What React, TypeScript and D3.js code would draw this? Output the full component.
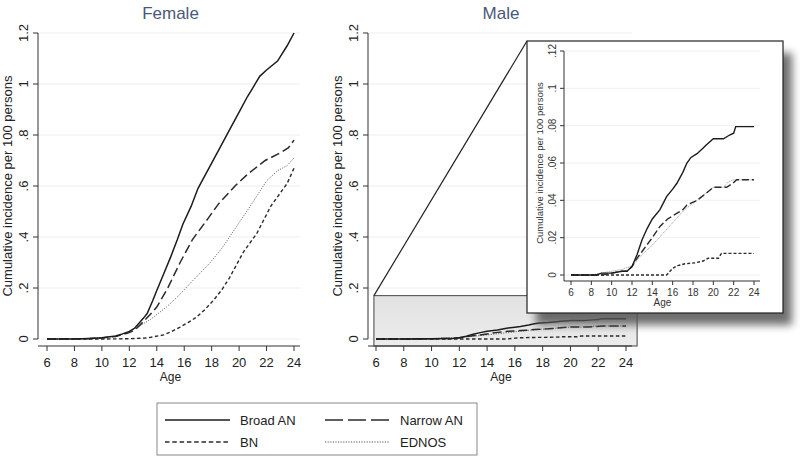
import React from "react";
import * as d3 from "d3";

// ---------- data ----------
const ageTicks = [6, 8, 10, 12, 14, 16, 18, 20, 22, 24];
const mainYTicks = [0, 0.2, 0.4, 0.6, 0.8, 1, 1.2];
const mainYLabels = ["0", ".2", ".4", ".6", ".8", "1", "1.2"];
const insetYTicks = [0, 0.02, 0.04, 0.06, 0.08, 0.1, 0.12];
const insetYLabels = ["0", ".02", ".04", ".06", ".08", ".1", ".12"];

const seriesNames = ["Broad AN", "Narrow AN", "BN", "EDNOS"];

// Female
const fBroadAge = [6, 8, 9, 10, 11, 11.5, 12, 12.4, 13, 13.3, 13.7, 14, 14.5, 15, 15.5, 15.9, 16.5, 17, 17.3, 18, 18.5, 19.3, 20, 20.6, 21, 21.5, 22, 22.8, 23.5, 24];
const fBroadVal = [0, 0, 0.002, 0.005, 0.012, 0.02, 0.03, 0.043, 0.08, 0.1, 0.15, 0.19, 0.255, 0.32, 0.39, 0.45, 0.52, 0.59, 0.62, 0.69, 0.74, 0.82, 0.89, 0.95, 0.985, 1.03, 1.055, 1.09, 1.15, 1.2];
const fNarrowAge = [6, 9, 10, 11, 11.5, 12, 12.4, 13, 13.5, 14, 14.8, 15.7, 16.6, 17.7, 18.5, 19.7, 20.7, 21.9, 23.0, 23.6, 24];
const fNarrowVal = [0, 0.001, 0.004, 0.01, 0.017, 0.025, 0.035, 0.067, 0.095, 0.125, 0.2, 0.3, 0.39, 0.47, 0.53, 0.6, 0.65, 0.7, 0.73, 0.75, 0.78];
const fBNAge = [6, 10, 12, 13.3, 14.5, 15.1, 15.7, 16.3, 16.9, 17.5, 18.1, 18.7, 19.3, 20.3, 21.3, 22.3, 23.5, 24];
const fBNVal = [0, 0, 0.001, 0.004, 0.016, 0.03, 0.047, 0.065, 0.086, 0.115, 0.15, 0.19, 0.24, 0.34, 0.415, 0.52, 0.61, 0.67];
const fEdnosAge = [6, 8, 9, 10, 11, 11.5, 12, 12.6, 13.5, 14.7, 15.5, 16.2, 17.9, 18.8, 19.8, 20.8, 22.0, 22.8, 23.5, 24];
const fEdnosVal = [0, 0, 0.002, 0.005, 0.011, 0.018, 0.028, 0.047, 0.075, 0.125, 0.165, 0.205, 0.3, 0.36, 0.44, 0.52, 0.62, 0.66, 0.68, 0.71];

// Male
const mBroadAge = [6, 8.5, 9, 10, 11, 11.5, 12, 12.5, 13, 13.5, 14, 14.75, 15.4, 16, 16.4, 17, 17.4, 17.8, 18.4, 19, 19.3, 20, 21, 21.6, 22, 22.2, 24];
const mBroadVal = [0, 0, 0.001, 0.001, 0.002, 0.002, 0.0045, 0.011, 0.019, 0.025, 0.03, 0.035, 0.042, 0.046, 0.049, 0.055, 0.06, 0.063, 0.065, 0.068, 0.0697, 0.073, 0.073, 0.075, 0.076, 0.0795, 0.0795];
const mNarrowAge = [6, 9, 10, 11, 11.5, 12, 12.5, 13.1, 14, 14.75, 15.5, 16.4, 17, 17.4, 18.4, 19.3, 20, 21.3, 21.9, 22.3, 24];
const mNarrowVal = [0, 0, 0.001, 0.002, 0.002, 0.0045, 0.009, 0.0134, 0.02, 0.026, 0.03, 0.033, 0.035, 0.0375, 0.04, 0.0438, 0.047, 0.047, 0.049, 0.051, 0.051];
const mBNAge = [6, 15.4, 16, 16.5, 17.2, 18.2, 19, 19.5, 20.5, 20.8, 24];
const mBNVal = [0, 0, 0.0036, 0.005, 0.006, 0.0065, 0.0075, 0.009, 0.009, 0.0116, 0.0116];
const mEdnosAge = [6, 8, 8.5, 9, 10, 11, 11.5, 12, 12.5, 13, 14, 15, 16, 17, 17.4, 18.4, 19.3, 20, 21, 21.5, 22, 24];
const mEdnosVal = [0, 0, 0.0005, 0.001, 0.002, 0.003, 0.004, 0.0045, 0.008, 0.011, 0.016, 0.022, 0.028, 0.034, 0.036, 0.04, 0.044, 0.047, 0.047, 0.05, 0.051, 0.051];

// zoomed region of male panel
const zoomAgeRange = [5.85, 24.8];
const zoomValMax = 0.17;

// ---------- styles ----------
const FONT = "'Liberation Sans', Arial, sans-serif";
const dashStyles: Record<string, string | undefined> = {
  "Broad AN": undefined,
  "Narrow AN": "9,4",
  BN: "3.5,2.5",
  EDNOS: "1,1.5",
};
const legendDash: Record<string, string | undefined> = {
  "Broad AN": undefined,
  "Narrow AN": "18,5",
  BN: "4.5,2.8",
  EDNOS: "1.2,1.4",
};
const widths: Record<string, number> = { "Broad AN": 1.5, "Narrow AN": 1.5, BN: 1.4, EDNOS: 1 };
const colors: Record<string, string> = { "Broad AN": "#1c1c1c", "Narrow AN": "#2a2a2a", BN: "#2a2a2a", EDNOS: "#555" };

type Series = { name: string; ages: number[]; vals: number[] };
const female: Series[] = [
  { name: "EDNOS", ages: fEdnosAge, vals: fEdnosVal },
  { name: "BN", ages: fBNAge, vals: fBNVal },
  { name: "Narrow AN", ages: fNarrowAge, vals: fNarrowVal },
  { name: "Broad AN", ages: fBroadAge, vals: fBroadVal },
];
const male: Series[] = [
  { name: "EDNOS", ages: mEdnosAge, vals: mEdnosVal },
  { name: "BN", ages: mBNAge, vals: mBNVal },
  { name: "Narrow AN", ages: mNarrowAge, vals: mNarrowVal },
  { name: "Broad AN", ages: mBroadAge, vals: mBroadVal },
];

function linePath(s: Series, x: d3.ScaleLinear<number, number>, y: d3.ScaleLinear<number, number>) {
  const pts = s.ages.map((a, i) => [a, s.vals[i]] as [number, number]);
  return d3.line<[number, number]>().x((d) => x(d[0])).y((d) => y(d[1])).curve(d3.curveLinear)(pts) || "";
}

type PanelProps = {
  title: string;
  x: d3.ScaleLinear<number, number>;
  y: d3.ScaleLinear<number, number>;
  axisX: number;
  axisY: number;
  right: number;
  series: Series[];
  children?: React.ReactNode;
};

function Panel({ title, x, y, axisX, axisY, right, series, children }: PanelProps) {
  const cx = (x(6) + x(24)) / 2;
  return (
    <g>
      <text x={cx} y={19} textAnchor="middle" fontFamily={FONT} fontSize={17} fill="#4a5878">{title}</text>
      {mainYTicks.map((t) => (
        <line key={"g" + t} x1={axisX} x2={right} y1={y(t)} y2={y(t)} stroke="#e9eff0" strokeWidth={1} />
      ))}
      {children}
      {series.map((s) => (
        <path key={s.name} d={linePath(s, x, y)} fill="none" stroke={colors[s.name]} strokeWidth={widths[s.name]} strokeDasharray={dashStyles[s.name]} />
      ))}
      {/* y axis */}
      <line x1={axisX} x2={axisX} y1={y(1.2)} y2={y(0)} stroke="#333" strokeWidth={1} />
      {mainYTicks.map((t, i) => (
        <g key={"yt" + t}>
          <line x1={axisX - 5} x2={axisX} y1={y(t)} y2={y(t)} stroke="#333" />
          <text transform={`translate(${axisX - 10},${y(t)}) rotate(-90)`} textAnchor="middle" fontFamily={FONT} fontSize={13} fill="#222">{mainYLabels[i]}</text>
        </g>
      ))}
      <text transform={`translate(${axisX - 26},${y(0.6)}) rotate(-90)`} textAnchor="middle" fontFamily={FONT} fontSize={13} fill="#222">Cumulative incidence per 100 persons</text>
      {/* x axis */}
      <line x1={axisX} x2={right} y1={axisY} y2={axisY} stroke="#333" strokeWidth={1} />
      {ageTicks.map((t) => (
        <g key={"xt" + t}>
          <line x1={x(t)} x2={x(t)} y1={axisY} y2={axisY + 5} stroke="#333" />
          <text x={x(t)} y={axisY + 21} textAnchor="middle" fontFamily={FONT} fontSize={13} fill="#222">{t}</text>
        </g>
      ))}
      <text x={cx} y={axisY + 35} textAnchor="middle" fontFamily={FONT} fontSize={12} fill="#222">Age</text>
    </g>
  );
}

export default function App() {
  const fx = d3.scaleLinear().domain([6, 24]).range([47, 294]);
  const fy = d3.scaleLinear().domain([0, 1.2]).range([339, 33]);
  const mx = d3.scaleLinear().domain([6, 24]).range([376, 626]);
  const my = d3.scaleLinear().domain([0, 1.2]).range([339, 33]);
  const ix = d3.scaleLinear().domain([6, 24]).range([571, 754]);
  const iy = d3.scaleLinear().domain([0, 0.12]).range([275, 51]);

  const axisY = 346;
  const inset = { x: 527, y: 41, w: 256, h: 272 };
  const zx0 = mx(zoomAgeRange[0]);
  const zx1 = mx(zoomAgeRange[1]);
  const zy0 = my(zoomValMax);

  return (
    <div style={{ position: "absolute", left: 0, top: 0 }}>
      <svg width={800} height={461} style={{ display: "block", background: "#fff" }}>
        <defs>
          <filter id="shadow" x="-20%" y="-20%" width="150%" height="150%">
            <feGaussianBlur stdDeviation={4} />
          </filter>
          <linearGradient id="zoomFill" x1="0" x2="0" y1="0" y2="1">
            <stop offset="0" stopColor="#e2e2e2" />
            <stop offset="1" stopColor="#ececec" />
          </linearGradient>
        </defs>

        <Panel title="Female" x={fx} y={fy} axisX={38} axisY={axisY} right={300} series={female} />

        <Panel title="Male" x={mx} y={my} axisX={368} axisY={axisY} right={632} series={male}>
          <rect x={zx0} y={zy0} width={zx1 - zx0} height={axisY - zy0} fill="url(#zoomFill)" stroke="#444" strokeWidth={1} />
        </Panel>

        {/* connector line */}
        <line x1={zx0} y1={zy0} x2={inset.x} y2={inset.y} stroke="#222" strokeWidth={1.2} />

        {/* inset shadow */}
        <rect x={inset.x + 9} y={inset.y + 12} width={inset.w} height={inset.h} fill="#555" opacity={0.85} filter="url(#shadow)" />
        <rect x={inset.x} y={inset.y} width={inset.w} height={inset.h} fill="#fff" stroke="#222" strokeWidth={1.2} />

        {/* inset plot */}
        <g>
          {insetYTicks.map((t) => (
            <line key={"ig" + t} x1={564} x2={760} y1={iy(t)} y2={iy(t)} stroke="#edf2f2" />
          ))}
          {male.map((s) => (
            <path key={"i" + s.name} d={linePath(s, ix, iy)} fill="none" stroke={s.name === "EDNOS" ? "#888" : colors[s.name]} strokeWidth={s.name === "EDNOS" ? 0.9 : 1.4} strokeDasharray={s.name === "Narrow AN" ? "7,3" : s.name === "BN" ? "3,2" : s.name === "EDNOS" ? "1,1" : undefined} />
          ))}
          <line x1={564} x2={564} y1={iy(0.12)} y2={281} stroke="#333" />
          {insetYTicks.map((t, i) => (
            <g key={"iyt" + t}>
              <line x1={560} x2={564} y1={iy(t)} y2={iy(t)} stroke="#333" />
              <text transform={`translate(${556},${iy(t)}) rotate(-90)`} textAnchor="middle" fontFamily={FONT} fontSize={10} fill="#333">{insetYLabels[i]}</text>
            </g>
          ))}
          <text transform={`translate(${543},${iy(0.06)}) rotate(-90)`} textAnchor="middle" fontFamily={FONT} fontSize={9.5} fill="#333">Cumulative incidence per 100 persons</text>
          <line x1={564} x2={760} y1={281} y2={281} stroke="#333" />
          {ageTicks.map((t) => (
            <g key={"ixt" + t}>
              <line x1={ix(t)} x2={ix(t)} y1={281} y2={285} stroke="#333" />
              <text x={ix(t)} y={296} textAnchor="middle" fontFamily={FONT} fontSize={10} fill="#333">{t}</text>
            </g>
          ))}
          <text x={(ix(6) + ix(24)) / 2} y={306} textAnchor="middle" fontFamily={FONT} fontSize={10} fill="#333">Age</text>
        </g>

        {/* legend */}
        <g>
          <rect x={157} y={403} width={320} height={52} fill="#fff" stroke="#888" strokeWidth={1} />
          {seriesNames.map((n, i) => {
            const col = i === 0 || i === 2 ? 0 : 1;
            const row = i < 2 ? 0 : 1;
            const lx = col === 0 ? 165 : 325;
            const ly = row === 0 ? 420 : 442;
            return (
              <g key={"lg" + n}>
                <line x1={lx} x2={lx + 65} y1={ly} y2={ly} stroke={colors[n]} strokeWidth={n === "EDNOS" ? 1 : 1.4} strokeDasharray={legendDash[n]} />
                <text x={lx + 75} y={ly + 5} fontFamily={FONT} fontSize={13} fill="#222">{n}</text>
              </g>
            );
          })}
        </g>
      </svg>
    </div>
  );
}
